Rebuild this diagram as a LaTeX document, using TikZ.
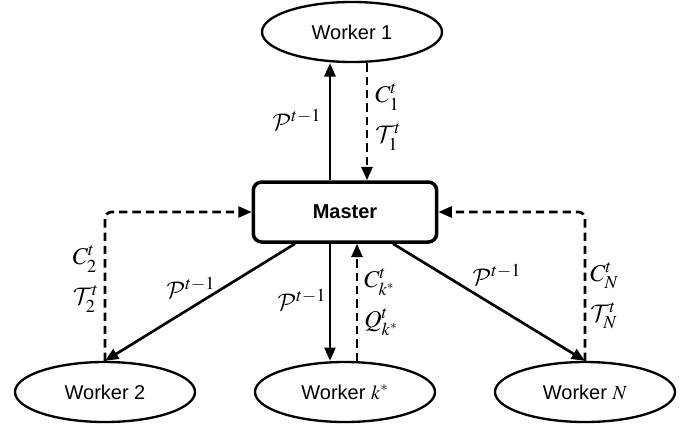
\documentclass[tikz,border=0pt]{standalone}
\usepackage{mathptmx}
\DeclareMathAlphabet{\mathcal}{OMS}{cmsy}{m}{n}
\usepackage[no-math]{fontspec}
\setsansfont{Liberation Sans}
\usetikzlibrary{shapes.geometric,arrows.meta}
\tikzset{
  worker/.style={ellipse, draw, line width=1.4pt, minimum width=108pt, minimum height=36pt, inner sep=0pt, font=\sffamily\fontsize{12}{14}\selectfont},
  masterbox/.style={rectangle, draw, rounded corners=5pt, line width=2.1pt, minimum width=110pt, minimum height=36pt, font=\sffamily\bfseries\fontsize{12}{14}\selectfont},
  solidarr/.style={-{Triangle[length=8pt,width=6.6pt]}, line width=1.6pt},
  dasharr/.style={solidarr, dash pattern=on 5pt off 3pt},
  lbl/.style={font=\fontsize{14.4}{24}\selectfont, inner sep=0pt},
  lblpair/.style={lbl, align=left}
}
\begin{document}
\begin{tikzpicture}[x=0.6pt,y=-0.6pt]
\useasboundingbox (0,0) rectangle (693,425);
\node[worker] (w1) at (352,32) {Worker 1};
\node[masterbox] (m) at (345,212) {Master};
\node[worker] (w2) at (105,392) {Worker 2};
\node[worker] (wk) at (345,392) {Worker $k^*$};
\node[worker] (wn) at (585,392) {Worker $N$};

\coordinate (m1) at ([xshift=-9pt]m.north);
\coordinate (m2) at ([xshift=13.2pt]m.north);
\coordinate (m3) at ([xshift=-9pt]m.south);
\coordinate (m4) at ([xshift=7.2pt]m.south);
\draw[solidarr] (m1) -- (m1 |- w1.south);
\draw[dasharr] (m2 |- w1.south) -- (m2);
\draw[solidarr] ([xshift=-30pt]m.south) -- (w2.north);
\draw[solidarr] ([xshift=28.8pt]m.south) -- (wn.north);
\draw[solidarr] (m3) -- (m3 |- wk.north);
\draw[dasharr] (m4 |- wk.north) -- (m4);
\draw[dasharr, rounded corners=4pt] (w2.north) |- (m.west);
\draw[dasharr, rounded corners=4pt] (wn.north) |- (m.east);

\node[lbl] (p1) at (297,120) {$\mathcal{P}^{t-1}$};
\node[lblpair, anchor=west] (ct1) at (375,117) {$C_1^t$\\$\mathcal{T}_1^t$};
\node[lblpair, anchor=east] (ct2) at (99,279) {$C_2^t$\\$\mathcal{T}_2^t$};
\node[lbl] (p2) at (191,288) {$\mathcal{P}^{t-1}$};
\node[lbl] (pk) at (302,300) {$\mathcal{P}^{t-1}$};
\node[lblpair, anchor=west] (cqk) at (364,302) {$C_{k^*}^t$\\$Q_{k^*}^t$};
\node[lbl] (pn) at (497,275) {$\mathcal{P}^{t-1}$};
\node[lblpair, anchor=west] (ctn) at (590,296) {$C_N^t$\\$\mathcal{T}_N^t$};
\end{tikzpicture}
\end{document}
